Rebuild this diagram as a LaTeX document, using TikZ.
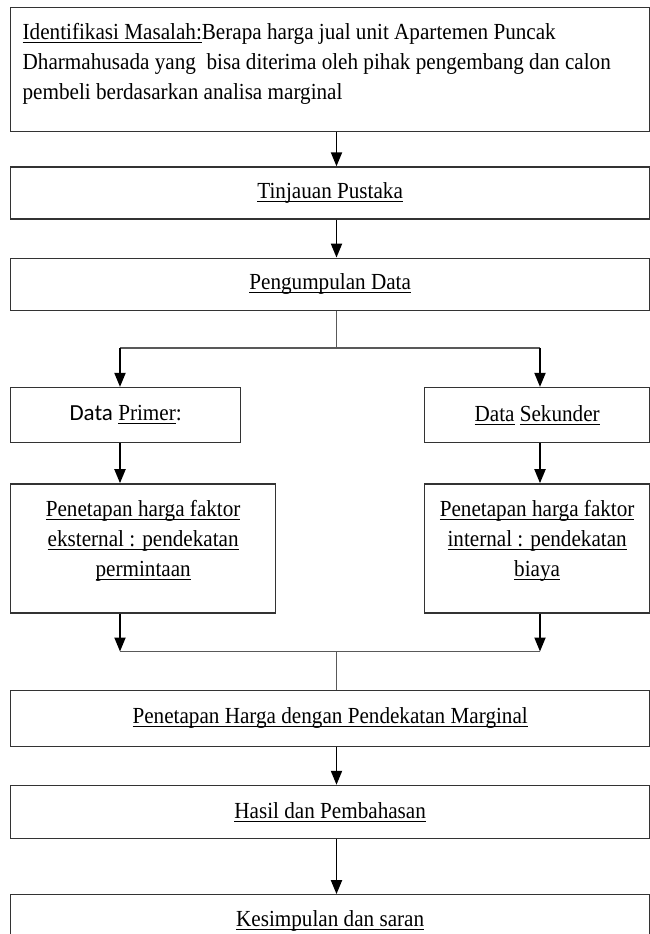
\documentclass[tikz,border=0pt]{standalone}
\usepackage{fontspec}
\setmainfont[FakeStretch=0.92]{Liberation Serif}
\newfontfamily\calibrifont{Carlito}
\usetikzlibrary{arrows.meta, positioning}
% underlined text with a fixed rule
\newsavebox\ulnbox
\newcommand{\uln}[1]{\leavevmode\sbox\ulnbox{#1}\rlap{\rule[-3.6pt]{\wd\ulnbox}{1.1pt}}\usebox\ulnbox}

\begin{document}
\begin{tikzpicture}[auto, node distance=38pt, >={Triangle[length=14pt,width=11pt]}]
% We define the styles for the boxes and the connectors
 \tikzset{
block/.style = {draw=black!80, rectangle, line width=1.3pt, inner sep=0pt, font=\fontsize{23}{30}\selectfont, align=center},
line/.style = {draw, ->, black, line width=1.9pt},
link/.style = {draw, black!65, line width=1.2pt},
}
 \useasboundingbox (0,0) rectangle (650pt,-934pt);

 % Columns of the connectors
 \coordinate (colL) at (120pt,0);
 \coordinate (colM) at (336.5pt,0);
 \coordinate (colR) at (540pt,0);

 % Problem statement block
 \node [block, anchor=north west, inner xsep=12pt, inner ysep=16pt] (ident) at (10pt,-7pt) {\parbox[c][92pt][t]{615pt}{\raggedright \uln{Identifikasi Masalah:}Berapa harga jual unit Apartemen Puncak\\ Dharmahusada yang~ bisa diterima oleh pihak pengembang dan calon\\ pembeli berdasarkan analisa marginal}};

 % Literature and data collection blocks
 \node [block, below=34pt of ident, minimum width=639pt, minimum height=52pt] (tinjauan) {\uln{Tinjauan Pustaka}};
 \node [block, below=of tinjauan, minimum width=639pt, minimum height=52pt] (pengumpulan) {\uln{Pengumpulan Data}};

 % Primary and secondary data blocks
 \node [block, below right=76pt and 0pt of pengumpulan.south west, minimum width=230pt, minimum height=55pt] (primer) {{\calibrifont Data} \uln{Primer}:};
 \node [block, below left=76pt and 0pt of pengumpulan.south east, minimum width=225pt, minimum height=55pt] (sekunder) {\uln{Data} \uln{Sekunder}};

 % Pricing approach blocks
 \node [block, below right=40pt and 0pt of primer.south west, inner xsep=10pt, inner ysep=16pt] (eksternal) {\parbox[c][97pt][t]{245pt}{\centering \uln{Penetapan harga faktor}\\ \uln{eksternal : pendekatan}\\ \uln{permintaan}}};
 \node [block, below left=40pt and 0pt of sekunder.south east, inner xsep=10pt, inner ysep=16pt] (internal) {\parbox[c][97pt][t]{205pt}{\centering \uln{Penetapan harga faktor}\\ \uln{internal : pendekatan}\\ \uln{biaya}}};

 % Marginal pricing, results and conclusion blocks
 \node [block, below right=76pt and 0pt of eksternal.south west, minimum width=639pt, minimum height=56pt] (marginal) {\uln{Penetapan Harga dengan Pendekatan Marginal}};
 \node [block, below=of marginal, minimum width=639pt, minimum height=53pt] (hasil) {\uln{Hasil dan Pembahasan}};
 \node [block, below=55pt of hasil, minimum width=639pt, minimum height=52pt] (kesimpulan) {\uln{Kesimpulan dan saran}};

 % Arrows down the main column
 \draw [line] (colM |- ident.south) -- (colM |- tinjauan.north);
 \draw [line] (colM |- tinjauan.south) -- (colM |- pengumpulan.north);

 % Split into the two data branches
 \coordinate [below=37pt of pengumpulan.south] (split);
 \draw [link] (colM |- pengumpulan.south) -- (colM |- split);
 \draw [link] (colL |- split) -- (colR |- split);
 \draw [line] (colL |- split) -- (colL |- primer.north);
 \draw [line] (colR |- split) -- (colR |- sekunder.north);
 \draw [line] (colL |- primer.south) -- (colL |- eksternal.north);
 \draw [line] (colR |- sekunder.south) -- (colR |- internal.north);

 % Join of the two branches
 \coordinate [below=38pt of eksternal.south] (join);
 \draw [line] (colL |- eksternal.south) -- (colL |- join);
 \draw [line] (colR |- internal.south) -- (colR |- join);
 \draw [link] (colL |- join) -- (colR |- join);
 \draw [link] (colM |- join) -- (colM |- marginal.north);

 \draw [line] (colM |- marginal.south) -- (colM |- hasil.north);
 \draw [line] (colM |- hasil.south) -- (colM |- kesimpulan.north);

\end{tikzpicture}
\end{document}
